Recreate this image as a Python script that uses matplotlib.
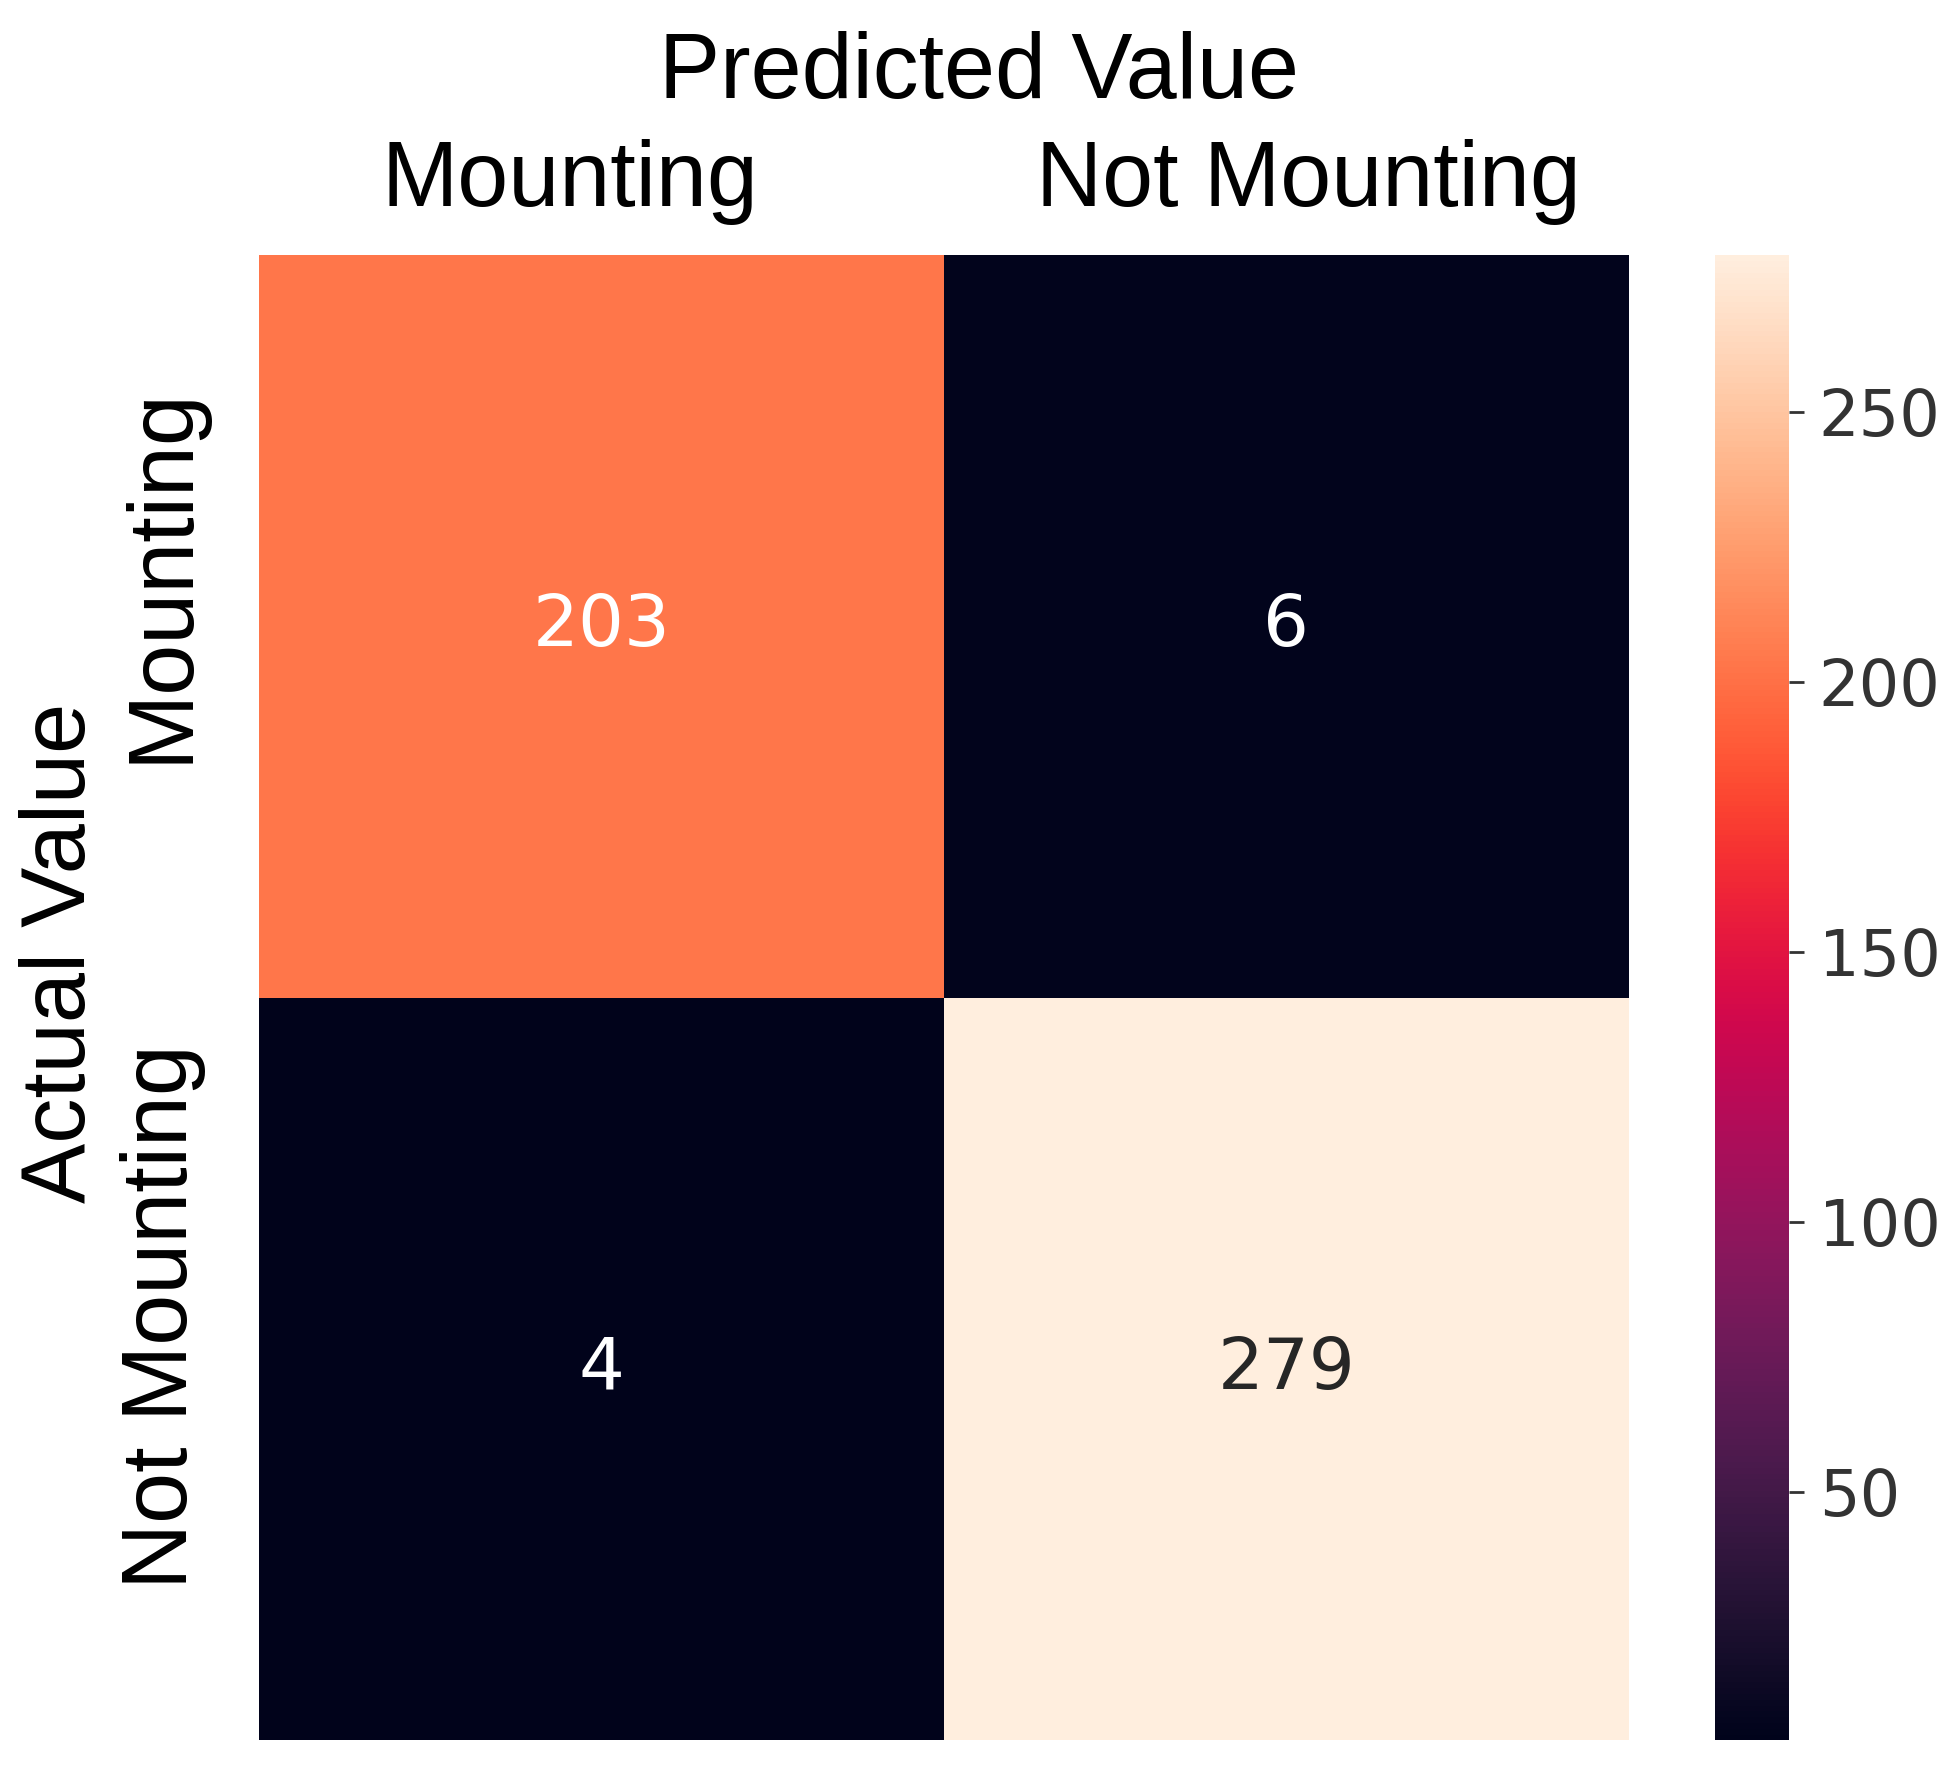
import matplotlib
matplotlib.use('Agg')
import matplotlib.pyplot as plt
import matplotlib.colors as mcolors
import matplotlib.transforms as mtransforms
import seaborn as sns
import numpy as np

labels = ['Mounting', 'Not Mounting']
cm = np.array([[203, 6],
               [4, 279]])

# rocket, a touch brighter / more saturated like the reference
base = sns.color_palette('rocket', as_cmap=True)(np.linspace(0, 1, 256))[:, :3]
hsv = mcolors.rgb_to_hsv(base)
hsv[:, 1] = np.clip(hsv[:, 1] * 1.09, 0, 1)
hsv[:, 2] = np.clip(hsv[:, 2] * 1.06, 0, 1)
cmap = mcolors.ListedColormap(mcolors.hsv_to_rgb(hsv))

fig = plt.figure(figsize=(19.6, 17.85), dpi=100)
ax = fig.add_axes([0.132, 0.025, 0.699, 0.832])
cax = fig.add_axes([0.875, 0.025, 0.038, 0.832])

sns.heatmap(cm, annot=True, fmt='d', cmap=cmap, ax=ax, cbar_ax=cax,
            annot_kws={'size': 52}, xticklabels=labels, yticklabels=labels)

lab_font = 'Liberation Sans'
ax.xaxis.tick_top()
ax.xaxis.set_label_position('top')
ax.set_xlabel('Predicted Value', fontsize=66, family=lab_font)
ax.set_ylabel('Actual Value', fontsize=65, family=lab_font)
ax.xaxis.set_label_coords(0.526, 1.106)
ax.yaxis.set_label_coords(-0.113, 0.530)
ax.tick_params(axis='x', length=0, pad=22)
ax.tick_params(axis='y', length=0, pad=38)
# the reference pushes the two column labels slightly apart
for t, dx in zip(ax.get_xticklabels(), [-0.31, 0.22]):
    t.set_fontsize(66)
    t.set_family(lab_font)
    t.set_transform(t.get_transform() + mtransforms.ScaledTranslation(dx, 0, fig.dpi_scale_trans))
shift = mtransforms.ScaledTranslation(0, 0.52, fig.dpi_scale_trans)
for t in ax.get_yticklabels():
    t.set_fontsize(66)
    t.set_family(lab_font)
    t.set_rotation(90)
    t.set_va('center')
    t.set_transform(t.get_transform() + shift)

cax.set_yticks([50, 100, 150, 200, 250])
cax.tick_params(labelsize=46, length=11, width=2, pad=10, colors='#333333')

fig.savefig('out.png', dpi=100)
